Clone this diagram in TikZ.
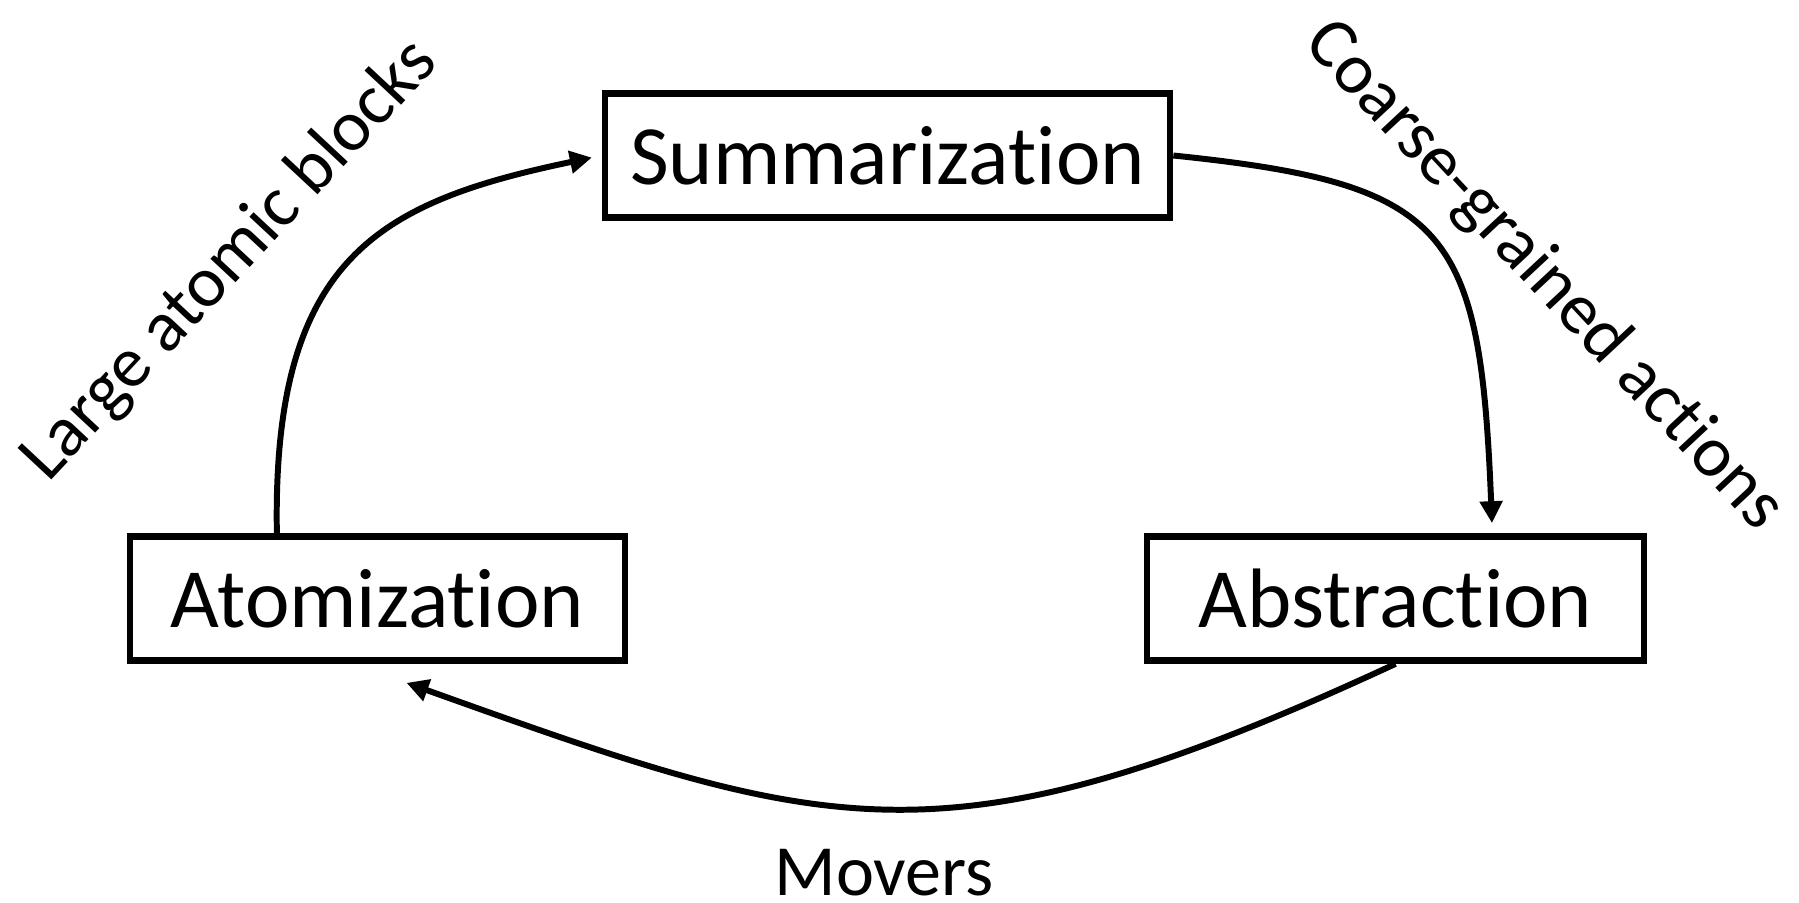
\documentclass[tikz,border=0pt]{standalone}
\usepackage{fontspec}
\setmainfont[RawFeature={-liga;-clig;-dlig;-calt;-hlig}]{Carlito}
\usetikzlibrary{arrows.meta}

\begin{document}
\begin{tikzpicture}[x=1cm,y=1cm,>={Triangle[length=2.2mm,width=2.2mm]},line width=1.7pt]
  \tikzstyle{block}=[draw, line width=1.9pt, minimum height=1.24cm, inner sep=0pt, font=\fontsize{24}{28}\selectfont]
  \tikzstyle{lbl}=[inner sep=0pt, font=\fontsize{20.5}{24}\selectfont]
  \useasboundingbox (0,0) rectangle (17.99,9.02);

  \node[block, minimum width=5.65cm] (summarization) at (8.875,7.465) {Summarization};
  \node[block, minimum width=4.95cm] (atomization) at (3.775,3.035) {Atomization};
  \node[block, minimum width=4.97cm] (abstraction) at (13.955,3.035) {Abstraction};

  \node[lbl, rotate=47] (blocks) at (2.30,6.41) {Large atomic blocks};
  \node[lbl, rotate=-47] (coarse) at (15.44,6.26) {Coarse-grained actions};
  \node[lbl, anchor=base] (movers) at (8.84,0.07) {Movers};

  \draw[->, shorten >=0.1cm] (atomization.147) .. controls (2.72,6.45) and (3.80,7.00) .. (summarization.west);
  \draw[->, shorten >=0.1cm] (summarization.east) .. controls (14.50,7.18) and (14.80,6.74) .. (abstraction.34);
  \draw[->] (abstraction.south) .. controls (9.42,0.28) and (8.29,0.68) .. ([xshift=0.29cm,yshift=-0.19cm]atomization.south);
\end{tikzpicture}
\end{document}
